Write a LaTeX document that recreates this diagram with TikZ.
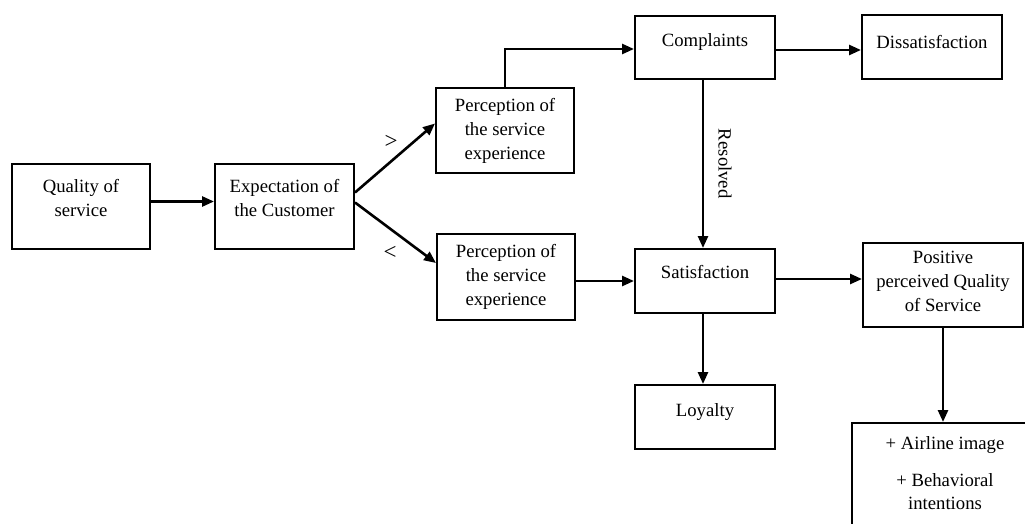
\documentclass[tikz,border=0pt]{standalone}
\usepackage{fontspec}
\setmainfont{Liberation Serif}
\usetikzlibrary{arrows.meta,calc}

% text lifted inside its box without changing the box size
\newcommand\lift[2]{\raisebox{#1}[\height][\depth]{\begin{tabular}{@{}c@{}}#2\end{tabular}}}

\begin{document}
\begin{tikzpicture}[x=1pt,y=-1pt,
  box/.style={draw, line width=2pt, rectangle, align=center, inner sep=2pt,
              font=\fontsize{18.7}{24}\selectfont},
  flow/.style={line width=2.6pt, -{Triangle[length=12pt,width=10pt]}},
  lbl/.style={font=\fontsize{18.7}{24}\selectfont, inner sep=1pt}]
  \useasboundingbox (0,0) rectangle (1025,523);
  \clip (0,0) rectangle (1025,523);

  % main chain
  \node[box, minimum width=138, minimum height=85] (q)  at (81,206.5)  {\lift{7pt}{Quality of\\service}};
  \node[box, minimum width=139, minimum height=85] (e)  at (284.5,206.5) {\lift{7pt}{Expectation of\\the Customer}};
  \node[box, minimum width=138, minimum height=85] (p1) at (505,130.5) {Perception of\\the service\\experience};
  \node[box, minimum width=138, minimum height=86] (p2) at (506,277)   {Perception of\\the service\\experience};
  \node[box, minimum width=140, minimum height=63] (c)  at (705,47)    {\lift{5pt}{Complaints}};
  \node[box, minimum width=140, minimum height=64] (d)  at (932,47)    {\lift{3pt}{Dissatisfaction}};
  \node[box, minimum width=140, minimum height=64] (s)  at (705,281)   {\lift{7pt}{Satisfaction}};
  \node[box, minimum width=140, minimum height=64] (l)  at (705,417)   {\lift{5pt}{Loyalty}};
  \node[box, minimum width=160, minimum height=84] (pos) at (943,285)  {\lift{2pt}{Positive\\perceived Quality\\of Service}};

  % outcome box, running off the lower right edge
  \node[box, minimum width=186, minimum height=130] (air) at (945,488) {};
  \node[lbl, anchor=north, align=center] (airtxt) at ($(air.north)+(0,13)$)
    {+ Airline image\\[13pt]+ Behavioral\\[-1pt]intentions};

  % connectors
  \draw[flow] ([yshift=5pt]q.east) -- ([yshift=5pt]e.west);
  \draw[flow] ([yshift=14pt]e.east) -- ([yshift=7pt]p1.west);
  \draw[flow] ([yshift=4pt]e.east) -- ([yshift=14pt]p2.west);
  \node[lbl, font=\fontsize{23}{24}\selectfont] (gt) at (391,142) {>};
  \node[lbl, font=\fontsize{23}{24}\selectfont] (lt) at (390,253) {<};

  \draw[flow] (p1.north) |- ([yshift=-2pt]c.west);
  \draw[flow] ([yshift=-3pt]c.east) -- ([yshift=-3pt]d.west);
  \draw[flow] ([xshift=-2pt]c.south) -- ([xshift=-2pt]s.north);
  \node[lbl, rotate=-90] (res) at ($(c.south)!0.5!(s.north)+(20,0)$) {Resolved};

  \draw[flow] (p2.east |- s.west) -- (s.west);
  \draw[flow] ([yshift=2pt]s.east) -- ([yshift=2pt]s.east -| pos.west);
  \draw[flow] ([xshift=-2pt]s.south) -- ([xshift=-2pt]l.north);
  \draw[flow] (pos.south) -- (pos.south |- air.north);
\end{tikzpicture}
\end{document}
